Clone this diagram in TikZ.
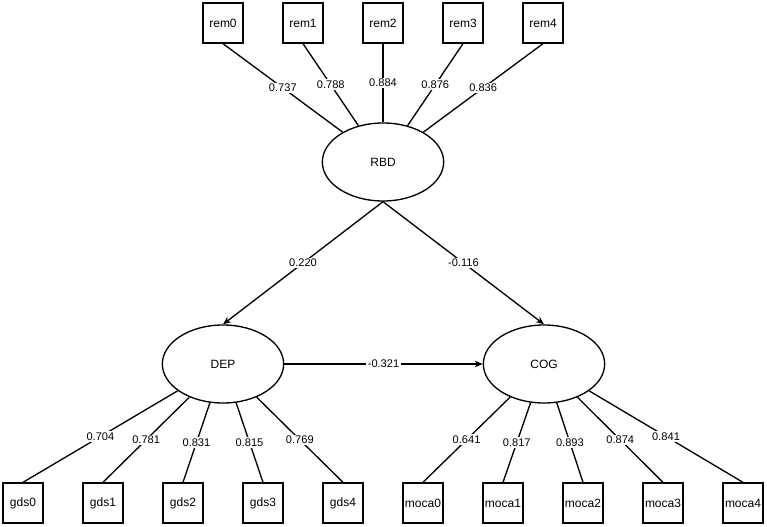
\documentclass[tikz,border=0pt]{standalone}
\usepackage{fontspec}
\setmainfont{Liberation Sans}
\usetikzlibrary{arrows.meta,shapes.geometric}
\tikzset{
  obsbox/.style   = {rectangle, draw, line width=1pt, minimum size=30pt,
                     inner sep=0pt, font=\fontsize{9}{11}\selectfont},
  latent/.style   = {ellipse, draw, line width=1pt, minimum width=91pt,
                     minimum height=58.5pt, inner sep=0pt,
                     font=\fontsize{9}{11}\selectfont},
  loading/.style  = {line width=1pt},
  regpath/.style  = {-{Stealth[length=6pt,width=5pt]}, line width=1pt},
  coef/.style     = {fill=white, inner sep=1pt, font=\fontsize{8.3}{10}\selectfont},
}

\begin{document}
\begin{tikzpicture}[x=0.75pt,y=-0.75pt]
  \useasboundingbox (0,0) rectangle (767,527);

  % ---- latent factors ----------------------------------------------------
  \node[latent] (RBD) at (383,162) {RBD};
  \node[latent] (DEP) at (223,364) {DEP};
  \node[latent] (COG) at (544,364) {COG};

  % ---- indicators --------------------------------------------------------
  \foreach \i/\v in {0/0.737,1/0.788,2/0.884,3/0.876,4/0.836} {
    \node[obsbox] (rem\i) at ({223+80*\i},23) {rem\i};
    \draw[loading] (rem\i.south) -- node[coef] {\v} (RBD);
  }
  \foreach \i/\v in {0/0.704,1/0.781,2/0.831,3/0.815,4/0.769} {
    \node[obsbox] (gds\i) at ({23+80*\i},503) {gds\i};
    \draw[loading] (gds\i.north) -- node[coef] {\v} (DEP);
  }
  \foreach \i/\v in {0/0.641,1/0.817,2/0.893,3/0.874,4/0.841} {
    \node[obsbox] (moca\i) at ({423+80*\i},503) {moca\i};
    \draw[loading] (moca\i.north) -- node[coef] {\v} (COG);
  }

  % ---- structural paths --------------------------------------------------
  \draw[regpath] (RBD.south) -- node[coef] {0.220} (DEP.north);
  \draw[regpath] (RBD.south) -- node[coef] {-0.116} (COG.north);
  \draw[regpath] (DEP.east)  -- node[coef] {-0.321} (COG.west);
\end{tikzpicture}
\end{document}
